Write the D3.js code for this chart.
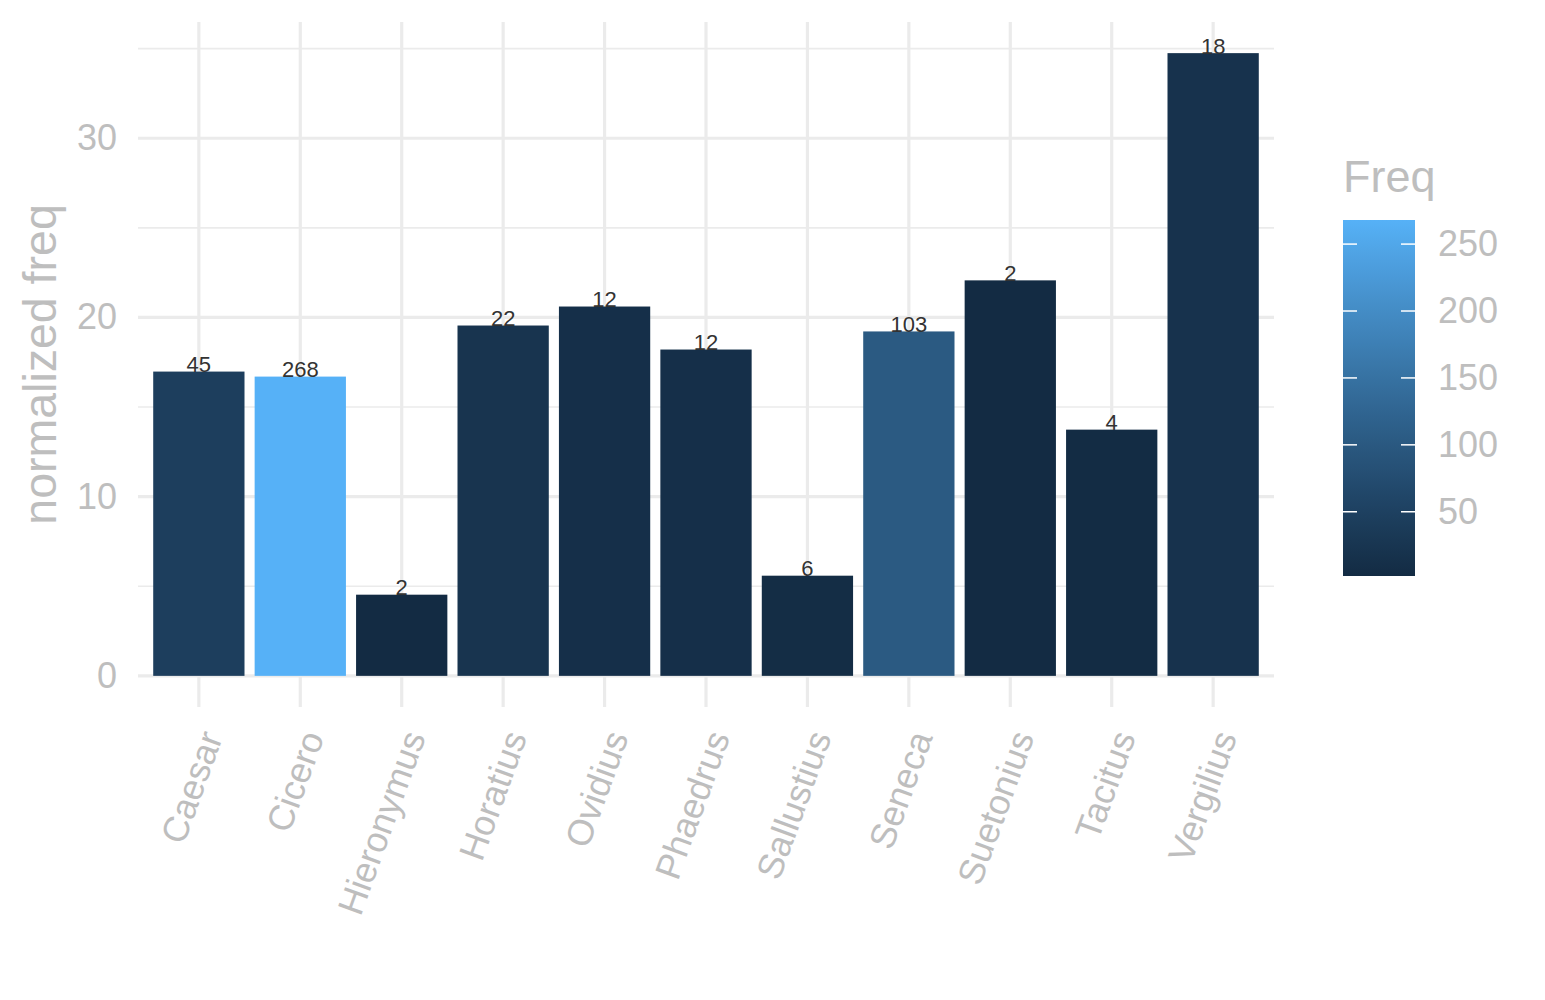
<!DOCTYPE html>
<html>
<head>
<meta charset="utf-8">
<script src="https://cdn.jsdelivr.net/npm/d3@7"></script>
<style>
  body { margin: 0; background: #fff; }
  svg text { font-family: "Liberation Sans", Arial, Helvetica, sans-serif; }
</style>
</head>
<body>
<div id="chart"></div>
<script>
var authors = ["Caesar", "Cicero", "Hieronymus", "Horatius", "Ovidius", "Phaedrus",
  "Sallustius", "Seneca", "Suetonius", "Tacitus", "Vergilius"];
var normFreq = [16.98, 16.70, 4.53, 19.55, 20.61, 18.21, 5.59, 19.22, 22.07, 13.74, 34.75];
var freq = [45, 268, 2, 22, 12, 12, 6, 103, 2, 4, 18];
var yTicks = [0, 10, 20, 30];
var yMinorTicks = [5, 15, 25, 35];
var legendTicks = [50, 100, 150, 200, 250];

var W = 1545, H = 1000;
var panel = { left: 138, right: 1274, top: 22, bottom: 707 };
var gridColor = "#EBEBEB", axisTextColor = "#BEBEBE";

var svg = d3.select("#chart").append("svg")
  .attr("width", W).attr("height", H);

var x = d3.scaleBand()
  .domain(authors)
  .range([panel.left, panel.right])
  .paddingInner(0.1)
  .paddingOuter(0.15);

var maxVal = d3.max(normFreq);
var y = d3.scaleLinear()
  .domain([-0.05 * maxVal, maxVal * 1.05])
  .range([panel.bottom, panel.top]);

var freqExtent = d3.extent(freq);
var fill = d3.scaleLinear()
  .domain(freqExtent)
  .range(["#132B43", "#56B1F7"])
  .interpolate(d3.interpolateLab);

// grid
var grid = svg.append("g");
grid.selectAll("line.minor").data(yMinorTicks).enter().append("line")
  .attr("x1", panel.left).attr("x2", panel.right)
  .attr("y1", function(d){ return y(d); }).attr("y2", function(d){ return y(d); })
  .attr("stroke", gridColor).attr("stroke-width", 1.6);
grid.selectAll("line.major").data(yTicks).enter().append("line")
  .attr("x1", panel.left).attr("x2", panel.right)
  .attr("y1", function(d){ return y(d); }).attr("y2", function(d){ return y(d); })
  .attr("stroke", gridColor).attr("stroke-width", 3.2);
grid.selectAll("line.vert").data(authors).enter().append("line")
  .attr("x1", function(d){ return x(d) + x.bandwidth() / 2; })
  .attr("x2", function(d){ return x(d) + x.bandwidth() / 2; })
  .attr("y1", panel.top).attr("y2", panel.bottom)
  .attr("stroke", gridColor).attr("stroke-width", 3.2);

// bars
var data = authors.map(function(a, i){ return { name: a, value: normFreq[i], freq: freq[i] }; });

svg.append("g").selectAll("rect").data(data).enter().append("rect")
  .attr("x", function(d){ return x(d.name); })
  .attr("width", x.bandwidth())
  .attr("y", function(d){ return y(d.value); })
  .attr("height", function(d){ return y(0) - y(d.value); })
  .attr("fill", function(d){ return fill(d.freq); });

svg.append("g").selectAll("text").data(data).enter().append("text")
  .attr("x", function(d){ return x(d.name) + x.bandwidth() / 2; })
  .attr("y", function(d){ return y(d.value) + 0.5; })
  .attr("text-anchor", "middle")
  .attr("font-size", 22)
  .attr("fill", "#333")
  .text(function(d){ return d.freq; });

// axes
var yAxis = svg.append("g")
  .attr("transform", "translate(" + panel.left + ",0)")
  .call(d3.axisLeft(y).tickValues(yTicks).tickSize(0).tickPadding(21));
yAxis.select(".domain").remove();
yAxis.selectAll("text")
  .attr("font-size", 36).attr("fill", axisTextColor).attr("font-family", null);

var xAxis = svg.append("g")
  .attr("transform", "translate(0," + panel.bottom + ")")
  .call(d3.axisBottom(x).tickSize(0));
xAxis.select(".domain").remove();
xAxis.selectAll("text")
  .attr("font-size", 36).attr("fill", axisTextColor).attr("font-family", null)
  .attr("x", 0).attr("y", 0).attr("dy", "0.72em")
  .attr("text-anchor", "end")
  .attr("transform", "translate(0,21) rotate(-70)");

svg.append("text")
  .attr("transform", "translate(56," + (panel.top + panel.bottom) / 2 + ") rotate(-90)")
  .attr("text-anchor", "middle")
  .attr("font-size", 46.5)
  .attr("fill", axisTextColor)
  .text("normalized freq");

// colourbar legend
var lg = { left: 1343, width: 72 };
var ly = d3.scaleLinear().domain(freqExtent).range([576, 220]);

var grad = svg.append("defs").append("linearGradient")
  .attr("id", "freqGrad")
  .attr("x1", 0).attr("y1", 1).attr("x2", 0).attr("y2", 0);
grad.selectAll("stop").data(d3.range(0, 1.0001, 0.05)).enter().append("stop")
  .attr("offset", function(t){ return t; })
  .attr("stop-color", function(t){ return fill(freqExtent[0] + t * (freqExtent[1] - freqExtent[0])); });

svg.append("rect")
  .attr("x", lg.left).attr("width", lg.width)
  .attr("y", ly(freqExtent[1])).attr("height", ly(freqExtent[0]) - ly(freqExtent[1]))
  .attr("fill", "url(#freqGrad)");

var lt = svg.append("g").selectAll("g").data(legendTicks).enter().append("g");
lt.append("line")
  .attr("x1", lg.left).attr("x2", lg.left + 14)
  .attr("y1", function(d){ return ly(d); }).attr("y2", function(d){ return ly(d); })
  .attr("stroke", "#fff").attr("stroke-width", 1.5);
lt.append("line")
  .attr("x1", lg.left + lg.width - 14).attr("x2", lg.left + lg.width)
  .attr("y1", function(d){ return ly(d); }).attr("y2", function(d){ return ly(d); })
  .attr("stroke", "#fff").attr("stroke-width", 1.5);

var legAxis = svg.append("g")
  .attr("transform", "translate(" + (lg.left + lg.width) + ",0)")
  .call(d3.axisRight(ly).tickValues(legendTicks).tickSize(0).tickPadding(23));
legAxis.select(".domain").remove();
legAxis.selectAll("text")
  .attr("font-size", 36).attr("fill", axisTextColor).attr("font-family", null);

svg.append("text")
  .attr("x", lg.left).attr("y", 192)
  .attr("font-size", 45)
  .attr("fill", axisTextColor)
  .text("Freq");
</script>
</body>
</html>
